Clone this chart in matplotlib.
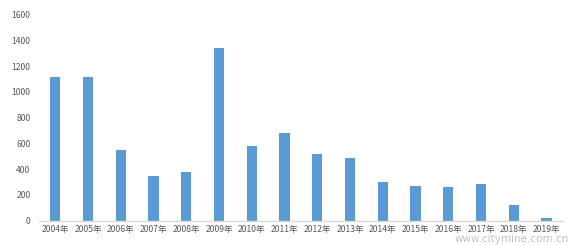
import matplotlib
matplotlib.use("Agg")
import matplotlib.pyplot as plt

plt.rcParams['font.family'] = ['Noto Sans CJK SC', 'DejaVu Sans']

years = ["2004年", "2005年", "2006年", "2007年", "2008年", "2009年", "2010年", "2011年",
         "2012年", "2013年", "2014年", "2015年", "2016年", "2017年", "2018年", "2019年"]
values = [1115, 1115, 548, 346, 379, 1343, 579, 678, 515, 483, 299, 268, 258, 286, 118, 19]
yticks = [0, 200, 400, 600, 800, 1000, 1200, 1400, 1600]

fig = plt.figure(figsize=(5.72, 2.45), dpi=100)
ax = fig.add_axes([0.068, 0.1, 0.916, 0.84])
x = list(range(len(years)))
ax.bar(x, values, width=0.31, color="#5B9BD5")
ax.set_xlim(-0.5, len(years) - 0.5)
ax.set_ylim(0, 1600)
ax.set_yticks(yticks)
ax.set_xticks(x)
ax.set_xticklabels(years)
ax.tick_params(axis='both', length=0, labelsize=6.2, colors="#595959")
ax.tick_params(axis='y', pad=6)
ax.tick_params(axis='x', pad=3)
for s in ['top', 'right', 'left']:
    ax.spines[s].set_visible(False)
ax.spines['bottom'].set_color("#D9D9D9")
ax.spines['bottom'].set_linewidth(1.0)

fig.text(0.995, 0.005, "www.citymine.com.cn", fontsize=7.5, color="#9a9a9a", alpha=0.6,
         family=['DejaVu Sans'], ha='right', va='bottom')

fig.savefig("out.png", dpi=100)
